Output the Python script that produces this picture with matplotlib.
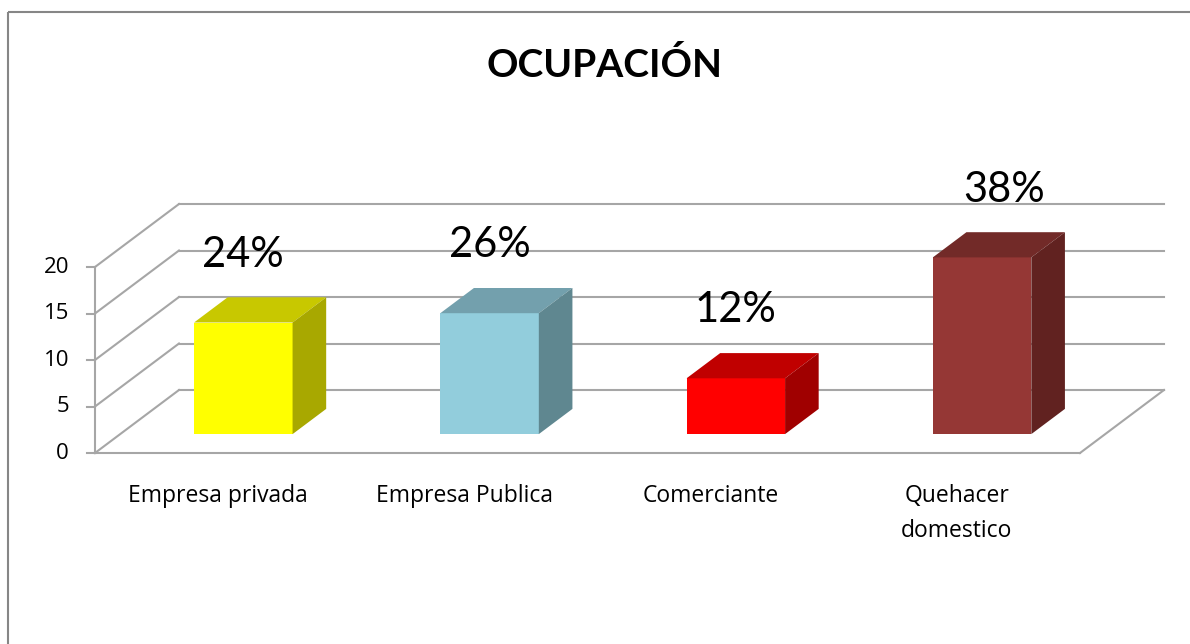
import matplotlib.pyplot as plt
from matplotlib.patches import Polygon, Rectangle

categories = ["Empresa privada", "Empresa Publica", "Comerciante", "Quehacer\ndomestico"]
values = [12, 13, 6, 19]
pct_labels = ["24%", "26%", "12%", "38%"]
yticks = [0, 5, 10, 15, 20]

front_col = ["#FFFF00", "#92CDDC", "#FF0000", "#953735"]
top_col = ["#C8C800", "#73A0AD", "#C00000", "#722A28"]
side_col = ["#A8A800", "#5F8790", "#A00000", "#612220"]

# pixel geometry of the fake 3D box
x0, y0 = 95, 453          # front-left floor corner
x1 = 1080                 # front-right floor corner
unit = 9.3                # px per value unit
ddx, ddy = 84, -63        # depth vector (front -> back wall)
grid_c = "#A6A6A6"


def proj(xf, v, d):
    # xf: position along category axis (0..1), v: value, d: depth (0..1)
    return x0 + xf * (x1 - x0) + d * ddx, y0 - v * unit + d * ddy


fig = plt.figure(figsize=(11.9, 6.44), dpi=100)
ax = fig.add_axes([0, 0, 1, 1])
ax.set_xlim(0, 1190)
ax.set_ylim(644, 0)
ax.axis("off")

# chart border
ax.add_patch(Rectangle((8, 12), 1250, 700, fill=False, ec="#868686", lw=1.5))

ax.text(604, 77, "OCUPACIÓN", ha="center", va="baseline", fontsize=28,
        fontweight="bold", family="Lato")

# walls and gridlines
for t in yticks:
    bx0, by0 = proj(0, t, 1)
    bx1, by1 = proj(1, t, 1)
    ax.plot([bx0, bx1], [by0, by1], color=grid_c, lw=1.5, zorder=1)
    fx, fy = proj(0, t, 0)
    ax.plot([fx - 8, fx], [fy, fy], color=grid_c, lw=1.5, zorder=1)
    ax.plot([fx, bx0], [fy, by0], color=grid_c, lw=1.5, zorder=1)
    ax.text(fx - 26, fy, str(t), ha="right", va="center", fontsize=16,
            family="Open Sans")

ax.plot([x0, x0], [y0, y0 - yticks[-1] * unit], color=grid_c, lw=1.5, zorder=1)
ax.plot([x0, x1], [y0, y0], color=grid_c, lw=1.5, zorder=1)
rx, ry = proj(1, 0, 1)
ax.plot([x1, rx], [y0, ry], color=grid_c, lw=1.5, zorder=1)

n = len(values)
bw = 0.4 / n
for i, v in enumerate(values):
    c = (i + 0.5) / n
    xl, yb = proj(c - bw / 2, 0, 0.3)
    xr, yt = proj(c + bw / 2, v, 0.3)
    sx, sy = 0.4 * ddx, 0.4 * ddy
    ax.add_patch(Polygon([(xl, yb), (xr, yb), (xr, yt), (xl, yt)],
                         closed=True, fc=front_col[i], ec="none", zorder=3))
    ax.add_patch(Polygon([(xl, yt), (xr, yt), (xr + sx, yt + sy), (xl + sx, yt + sy)],
                         closed=True, fc=top_col[i], ec="none", zorder=3))
    ax.add_patch(Polygon([(xr, yb), (xr, yt), (xr + sx, yt + sy), (xr + sx, yb + sy)],
                         closed=True, fc=side_col[i], ec="none", zorder=3))
    lx, ly = proj(c, v + 7.3, 0.3)
    if i == n - 1:
        lx += 22
    ax.text(lx, ly, pct_labels[i], ha="center", va="center", fontsize=30,
            family="Lato", zorder=4)
    cx, cy = proj(c, 0, 0)
    ax.text(cx, cy + 31, categories[i], ha="center", va="top", fontsize=16.5,
            family="Open Sans", linespacing=1.6)

fig.savefig("out.png", dpi=100)
